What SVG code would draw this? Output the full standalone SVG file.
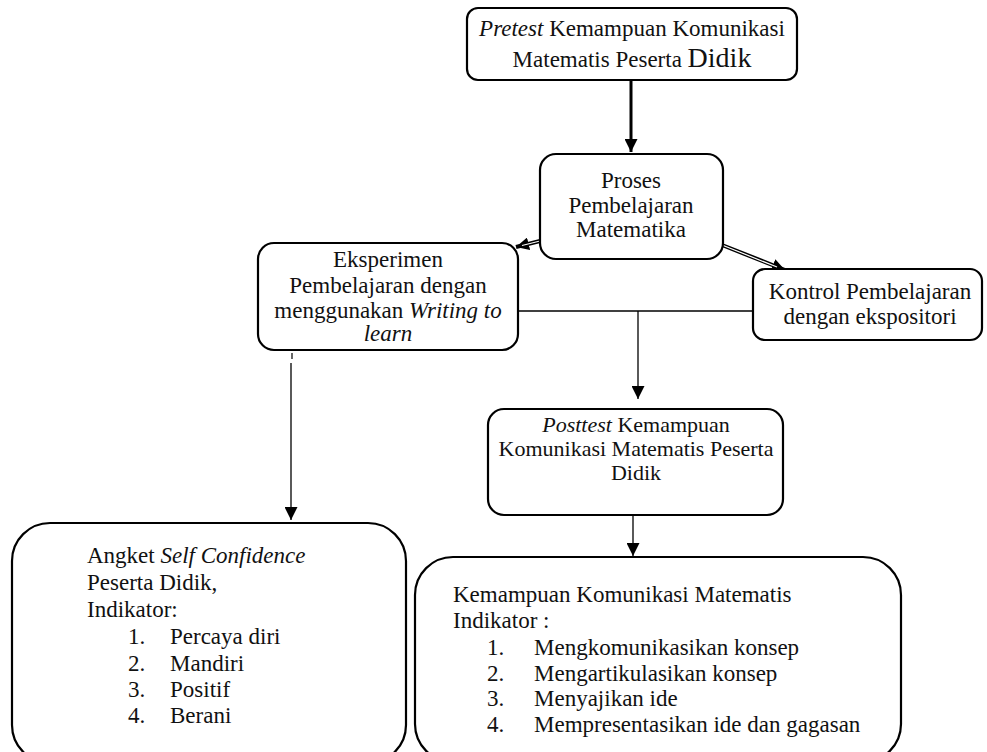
<svg xmlns="http://www.w3.org/2000/svg" width="987" height="752" viewBox="0 0 987 752">
<style>
.box{fill:#fff;stroke:#000;stroke-width:2.2}
.ln{stroke:#000;fill:none}
</style>
<defs>
<marker id="ah" viewBox="0 0 10 10" refX="10" refY="5" markerWidth="13" markerHeight="13" markerUnits="userSpaceOnUse" orient="auto">
<path d="M0,0 L10,5 L0,10 Z" fill="#000"/>
</marker>
</defs>
<rect width="987" height="752" fill="#fff"/>
<g id="connectors">
<line class="ln" x1="631" y1="80" x2="631" y2="152" stroke-width="3" marker-end="url(#ah)"/>
<line class="ln" x1="540" y1="241" x2="516" y2="247" stroke-width="4" marker-end="url(#ah)"/>
<line x1="540" y1="241" x2="522" y2="245.5" stroke="#fff" stroke-width="1.2"/>
<line class="ln" x1="722" y1="245" x2="785" y2="270" stroke-width="4" marker-end="url(#ah)"/>
<line x1="722" y1="245" x2="777" y2="267" stroke="#fff" stroke-width="1.2"/>
<line class="ln" x1="514" y1="311" x2="756" y2="311" stroke-width="1.3"/>
<line class="ln" x1="638" y1="311" x2="638" y2="399" stroke-width="1.3" marker-end="url(#ah)"/>
<line class="ln" x1="292" y1="353" x2="292" y2="359" stroke-width="1.2"/>
<line class="ln" x1="291" y1="363" x2="291" y2="520" stroke-width="1.3" marker-end="url(#ah)"/>
<line class="ln" x1="633" y1="515" x2="633" y2="556" stroke-width="1.3" marker-end="url(#ah)"/>
</g>
<g font-family="'Liberation Serif', 'Times New Roman', serif" font-size="23" fill="#111">
<g id="pretest">
<rect class="box" x="467" y="8" width="330" height="72" rx="11"/>
<text text-anchor="middle" x="632" y="36"><tspan font-style="italic">Pretest</tspan> Kemampuan Komunikasi</text>
<text text-anchor="middle" x="632" y="67">Matematis Peserta <tspan font-size="28">Didik</tspan></text>
</g>
<g id="proses">
<rect class="box" x="540" y="154" width="183" height="105" rx="16"/>
<text text-anchor="middle" x="631" y="188">Proses</text>
<text text-anchor="middle" x="631" y="213">Pembelajaran</text>
<text text-anchor="middle" x="631" y="237">Matematika</text>
</g>
<g id="eksperimen">
<rect class="box" x="258" y="243" width="260" height="107" rx="16"/>
<text text-anchor="middle" x="388" y="267">Eksperimen</text>
<text text-anchor="middle" x="388" y="293">Pembelajaran dengan</text>
<text text-anchor="middle" x="388" y="318">menggunakan <tspan font-style="italic">Writing to</tspan></text>
<text text-anchor="middle" font-style="italic" x="388" y="341">learn</text>
</g>
<g id="kontrol">
<rect class="box" x="753" y="269" width="229" height="71" rx="12"/>
<text text-anchor="middle" x="870" y="299">Kontrol Pembelajaran</text>
<text text-anchor="middle" x="870" y="324">dengan ekspositori</text>
</g>
<g id="posttest" font-size="22">
<rect class="box" x="488" y="409" width="295" height="106" rx="16"/>
<text text-anchor="middle" x="636" y="432"><tspan font-style="italic">Posttest</tspan> Kemampuan</text>
<text text-anchor="middle" x="636" y="456">Komunikasi Matematis Peserta</text>
<text text-anchor="middle" x="636" y="480">Didik</text>
</g>
<g id="angket">
<rect class="box" x="12" y="523" width="394" height="240" rx="38"/>
<text x="87" y="563">Angket <tspan font-style="italic">Self Confidence</tspan></text>
<text x="87" y="590">Peserta Didik,</text>
<text x="87" y="617">Indikator:</text>
<text x="128" y="644">1.</text><text x="170" y="644">Percaya diri</text>
<text x="128" y="671">2.</text><text x="170" y="671">Mandiri</text>
<text x="128" y="697">3.</text><text x="170" y="697">Positif</text>
<text x="128" y="723">4.</text><text x="170" y="723">Berani</text>
</g>
<g id="kemampuan">
<rect class="box" x="415" y="557" width="486" height="205" rx="38"/>
<text x="453" y="602">Kemampuan Komunikasi Matematis</text>
<text x="453" y="628">Indikator :</text>
<text x="487" y="655">1.</text><text x="534" y="655">Mengkomunikasikan konsep</text>
<text x="487" y="681">2.</text><text x="534" y="681">Mengartikulasikan konsep</text>
<text x="487" y="706">3.</text><text x="534" y="706">Menyajikan ide</text>
<text x="487" y="732">4.</text><text x="534" y="732">Mempresentasikan ide dan gagasan</text>
</g>
</g>
</svg>
